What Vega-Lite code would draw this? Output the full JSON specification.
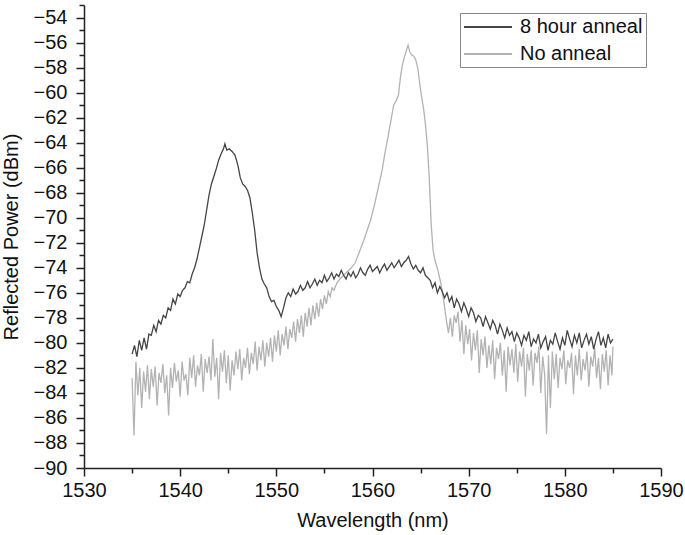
{
  "$schema": "https://vega.github.io/schema/vega-lite/v6.json",
  "width": 577,
  "height": 463,
  "autosize": {"type": "none"},
  "padding": {"left": 84, "top": 5, "right": 24, "bottom": 67},
  "config": {
    "view": {"stroke": null},
    "font": "Liberation Sans",
    "axis": {"labelFont": "Liberation Sans", "titleFont": "Liberation Sans", "labelFontSize": 20, "titleFontSize": 20, "titleFontWeight": "normal", "labelColor": "#111", "titleColor": "#111", "domainColor": "#222", "tickColor": "#222", "domainWidth": 1.5, "tickWidth": 1.5, "grid": false}
  },
  "datasets": {
    "anneal": [
      {"w":1535.0,"p":-80.9},{"w":1535.25,"p":-80.2},{"w":1535.5,"p":-81.1},{"w":1535.75,"p":-79.8},{"w":1536.0,"p":-80.6},{"w":1536.25,"p":-79.6},{"w":1536.5,"p":-80.5},{"w":1536.75,"p":-79.3},{"w":1537.0,"p":-79.4},{"w":1537.25,"p":-78.6},{"w":1537.5,"p":-79.1},{"w":1537.75,"p":-78.2},{"w":1538.0,"p":-78.5},{"w":1538.25,"p":-77.8},{"w":1538.5,"p":-78.0},{"w":1538.75,"p":-77.2},{"w":1539.0,"p":-77.4},{"w":1539.25,"p":-76.5},{"w":1539.5,"p":-76.9},{"w":1539.75,"p":-76.1},{"w":1540.0,"p":-76.3},{"w":1540.25,"p":-75.8},{"w":1540.5,"p":-75.6},{"w":1540.75,"p":-75.1},{"w":1541.0,"p":-75.2},{"w":1541.25,"p":-74.5},{"w":1541.5,"p":-74.0},{"w":1541.75,"p":-73.3},{"w":1542.0,"p":-72.4},{"w":1542.25,"p":-71.5},{"w":1542.5,"p":-70.6},{"w":1542.75,"p":-69.4},{"w":1543.0,"p":-68.2},{"w":1543.25,"p":-67.3},{"w":1543.5,"p":-66.7},{"w":1543.75,"p":-66.1},{"w":1544.0,"p":-65.4},{"w":1544.25,"p":-64.9},{"w":1544.5,"p":-64.5},{"w":1544.65,"p":-64.1},{"w":1544.85,"p":-64.6},{"w":1545.1,"p":-64.5},{"w":1545.4,"p":-64.7},{"w":1545.7,"p":-65.0},{"w":1546.0,"p":-65.8},{"w":1546.25,"p":-66.8},{"w":1546.5,"p":-67.3},{"w":1546.75,"p":-67.5},{"w":1547.0,"p":-67.8},{"w":1547.25,"p":-68.4},{"w":1547.5,"p":-69.6},{"w":1547.75,"p":-71.0},{"w":1548.0,"p":-72.8},{"w":1548.25,"p":-74.0},{"w":1548.5,"p":-74.9},{"w":1548.75,"p":-75.3},{"w":1549.0,"p":-75.6},{"w":1549.25,"p":-76.3},{"w":1549.5,"p":-76.7},{"w":1549.75,"p":-76.6},{"w":1550.0,"p":-77.1},{"w":1550.25,"p":-77.4},{"w":1550.5,"p":-77.9},{"w":1550.75,"p":-77.2},
      {"w":1551.0,"p":-76.4},{"w":1551.25,"p":-76.0},{"w":1551.5,"p":-76.3},{"w":1551.75,"p":-75.7},{"w":1552.0,"p":-76.1},{"w":1552.25,"p":-75.9},{"w":1552.5,"p":-75.4},{"w":1552.75,"p":-75.8},{"w":1553.0,"p":-75.6},{"w":1553.25,"p":-75.1},{"w":1553.5,"p":-75.6},{"w":1553.75,"p":-75.3},{"w":1554.0,"p":-74.9},{"w":1554.25,"p":-75.4},{"w":1554.5,"p":-75.0},{"w":1554.75,"p":-75.2},{"w":1555.0,"p":-74.6},{"w":1555.25,"p":-75.1},{"w":1555.5,"p":-74.8},{"w":1555.75,"p":-74.4},{"w":1556.0,"p":-74.9},{"w":1556.25,"p":-74.5},{"w":1556.5,"p":-74.7},{"w":1556.75,"p":-74.2},{"w":1557.0,"p":-74.6},{"w":1557.25,"p":-74.9},{"w":1557.5,"p":-74.4},{"w":1557.75,"p":-74.7},{"w":1558.0,"p":-74.3},{"w":1558.25,"p":-74.8},{"w":1558.5,"p":-74.5},{"w":1558.75,"p":-74.0},{"w":1559.0,"p":-74.4},{"w":1559.25,"p":-74.6},{"w":1559.5,"p":-74.1},{"w":1559.75,"p":-73.8},{"w":1560.0,"p":-74.3},{"w":1560.25,"p":-74.1},{"w":1560.5,"p":-73.9},{"w":1560.75,"p":-74.4},{"w":1561.0,"p":-74.0},{"w":1561.25,"p":-73.7},{"w":1561.5,"p":-74.2},{"w":1561.75,"p":-73.9},{"w":1562.0,"p":-73.6},{"w":1562.25,"p":-74.0},{"w":1562.5,"p":-73.7},{"w":1562.75,"p":-73.4},{"w":1563.0,"p":-73.9},{"w":1563.25,"p":-73.6},{"w":1563.5,"p":-73.4},{"w":1563.75,"p":-73.1},{"w":1564.0,"p":-73.7},{"w":1564.25,"p":-74.1},{"w":1564.5,"p":-73.8},{"w":1564.75,"p":-74.2},{"w":1565.0,"p":-74.4},{"w":1565.25,"p":-74.0},{"w":1565.5,"p":-74.6},{"w":1565.75,"p":-74.8},
      {"w":1566.0,"p":-75.0},{"w":1566.25,"p":-75.6},{"w":1566.5,"p":-75.2},{"w":1566.75,"p":-76.0},{"w":1567.0,"p":-75.5},{"w":1567.25,"p":-75.9},{"w":1567.5,"p":-76.4},{"w":1567.75,"p":-76.0},{"w":1568.0,"p":-76.7},{"w":1568.25,"p":-76.3},{"w":1568.5,"p":-77.2},{"w":1568.75,"p":-76.5},{"w":1569.0,"p":-76.9},{"w":1569.25,"p":-77.5},{"w":1569.5,"p":-76.8},{"w":1569.75,"p":-77.3},{"w":1570.0,"p":-77.9},{"w":1570.25,"p":-77.2},{"w":1570.5,"p":-77.6},{"w":1570.75,"p":-78.3},{"w":1571.0,"p":-77.8},{"w":1571.25,"p":-78.0},{"w":1571.5,"p":-78.7},{"w":1571.75,"p":-77.9},{"w":1572.0,"p":-78.4},{"w":1572.25,"p":-78.9},{"w":1572.5,"p":-78.2},{"w":1572.75,"p":-78.6},{"w":1573.0,"p":-79.3},{"w":1573.25,"p":-78.5},{"w":1573.5,"p":-79.0},{"w":1573.75,"p":-79.6},{"w":1574.0,"p":-78.8},{"w":1574.25,"p":-79.4},{"w":1574.5,"p":-79.1},{"w":1574.75,"p":-79.9},{"w":1575.0,"p":-79.2},{"w":1575.25,"p":-79.6},{"w":1575.5,"p":-80.2},{"w":1575.75,"p":-79.4},{"w":1576.0,"p":-79.8},{"w":1576.25,"p":-79.1},{"w":1576.5,"p":-80.3},{"w":1576.75,"p":-79.7},{"w":1577.0,"p":-80.0},{"w":1577.25,"p":-79.3},{"w":1577.5,"p":-80.4},{"w":1577.75,"p":-79.9},{"w":1578.0,"p":-79.5},{"w":1578.25,"p":-80.6},{"w":1578.5,"p":-79.8},{"w":1578.75,"p":-80.1},{"w":1579.0,"p":-79.2},{"w":1579.25,"p":-79.9},{"w":1579.5,"p":-80.5},{"w":1579.75,"p":-79.6},{"w":1580.0,"p":-80.2},{"w":1580.25,"p":-79.0},{"w":1580.5,"p":-79.7},{"w":1580.75,"p":-80.3},{"w":1581.0,"p":-79.4},{"w":1581.25,"p":-80.0},{"w":1581.5,"p":-79.2},{"w":1581.75,"p":-80.4},{"w":1582.0,"p":-79.8},{"w":1582.25,"p":-79.3},{"w":1582.5,"p":-80.1},{"w":1582.75,"p":-79.5},{"w":1583.0,"p":-80.5},{"w":1583.25,"p":-79.7},{"w":1583.5,"p":-79.1},{"w":1583.75,"p":-80.2},{"w":1584.0,"p":-79.6},{"w":1584.25,"p":-80.4},{"w":1584.5,"p":-79.3},{"w":1584.75,"p":-80.0},{"w":1585.0,"p":-79.7}
    ],
    "none": [
      {"w":1535.0,"p":-82.8},{"w":1535.2,"p":-87.4},{"w":1535.4,"p":-81.5},{"w":1535.6,"p":-84.2},{"w":1535.8,"p":-82.0},{"w":1536.0,"p":-85.2},{"w":1536.2,"p":-82.3},{"w":1536.4,"p":-83.9},{"w":1536.6,"p":-81.8},{"w":1536.8,"p":-84.5},{"w":1537.0,"p":-82.1},{"w":1537.2,"p":-83.5},{"w":1537.4,"p":-81.9},{"w":1537.6,"p":-85.0},{"w":1537.8,"p":-82.4},{"w":1538.0,"p":-83.2},{"w":1538.2,"p":-81.7},{"w":1538.4,"p":-84.0},{"w":1538.6,"p":-82.6},{"w":1538.8,"p":-85.8},{"w":1539.0,"p":-82.0},{"w":1539.2,"p":-83.6},{"w":1539.4,"p":-81.6},{"w":1539.6,"p":-83.1},{"w":1539.8,"p":-82.2},{"w":1540.0,"p":-84.3},{"w":1540.2,"p":-81.5},{"w":1540.4,"p":-83.0},{"w":1540.6,"p":-82.5},{"w":1540.8,"p":-84.2},{"w":1541.0,"p":-81.2},{"w":1541.2,"p":-82.8},{"w":1541.4,"p":-81.0},{"w":1541.6,"p":-83.5},{"w":1541.8,"p":-81.8},{"w":1542.0,"p":-82.6},{"w":1542.2,"p":-80.9},{"w":1542.4,"p":-83.9},{"w":1542.6,"p":-81.3},{"w":1542.8,"p":-82.4},{"w":1543.0,"p":-81.1},{"w":1543.2,"p":-83.0},{"w":1543.4,"p":-79.7},{"w":1543.6,"p":-82.7},{"w":1543.8,"p":-81.2},{"w":1544.0,"p":-84.5},{"w":1544.2,"p":-80.8},{"w":1544.4,"p":-82.3},{"w":1544.6,"p":-80.6},{"w":1544.8,"p":-83.2},{"w":1545.0,"p":-81.0},{"w":1545.2,"p":-83.8},{"w":1545.4,"p":-81.4},{"w":1545.6,"p":-82.6},{"w":1545.8,"p":-80.7},{"w":1546.0,"p":-82.1},{"w":1546.2,"p":-80.5},{"w":1546.4,"p":-83.0},{"w":1546.6,"p":-81.2},{"w":1546.8,"p":-82.0},{"w":1547.0,"p":-80.4},{"w":1547.2,"p":-82.5},{"w":1547.4,"p":-80.8},{"w":1547.6,"p":-81.7},{"w":1547.8,"p":-79.9},{"w":1548.0,"p":-82.2},{"w":1548.2,"p":-80.3},{"w":1548.4,"p":-81.4},{"w":1548.6,"p":-79.8},{"w":1548.8,"p":-81.9},{"w":1549.0,"p":-80.0},{"w":1549.2,"p":-81.1},{"w":1549.4,"p":-79.6},{"w":1549.6,"p":-81.5},{"w":1549.8,"p":-79.4},{"w":1550.0,"p":-80.7},{"w":1550.2,"p":-79.0},{"w":1550.4,"p":-81.0},{"w":1550.6,"p":-79.3},{"w":1550.8,"p":-80.2},{"w":1551.0,"p":-78.7},{"w":1551.2,"p":-80.5},{"w":1551.4,"p":-78.9},{"w":1551.6,"p":-79.6},{"w":1551.8,"p":-78.3},{"w":1552.0,"p":-79.9},{"w":1552.2,"p":-78.1},{"w":1552.4,"p":-79.2},{"w":1552.6,"p":-77.8},{"w":1552.8,"p":-79.5},{"w":1553.0,"p":-77.6},{"w":1553.2,"p":-78.7},{"w":1553.4,"p":-77.2},{"w":1553.6,"p":-78.6},{"w":1553.8,"p":-77.0},{"w":1554.0,"p":-78.1},{"w":1554.2,"p":-76.8},{"w":1554.4,"p":-77.9},{"w":1554.6,"p":-76.5},{"w":1554.8,"p":-77.3},{"w":1555.0,"p":-76.2},{"w":1555.2,"p":-76.9},{"w":1555.4,"p":-75.9},{"w":1555.6,"p":-76.3},{"w":1555.8,"p":-75.6},{"w":1556.0,"p":-75.8},{"w":1556.3,"p":-75.2},{"w":1556.6,"p":-74.9},{"w":1557.0,"p":-74.6},{"w":1557.4,"p":-74.3},{"w":1557.8,"p":-74.0},{"w":1558.2,"p":-73.6},{"w":1558.6,"p":-72.8},{"w":1559.0,"p":-72.0},{"w":1559.4,"p":-71.1},{"w":1559.8,"p":-70.2},{"w":1560.2,"p":-69.0},{"w":1560.6,"p":-67.6},{"w":1561.0,"p":-66.2},{"w":1561.3,"p":-64.8},{"w":1561.6,"p":-63.6},{"w":1561.9,"p":-62.3},{"w":1562.2,"p":-61.0},{"w":1562.5,"p":-60.6},{"w":1562.7,"p":-60.2},{"w":1562.9,"p":-58.8},{"w":1563.1,"p":-57.8},{"w":1563.3,"p":-57.2},{"w":1563.5,"p":-56.7},{"w":1563.7,"p":-56.2},{"w":1563.9,"p":-56.8},{"w":1564.1,"p":-57.0},{"w":1564.3,"p":-57.1},{"w":1564.5,"p":-57.4},{"w":1564.7,"p":-58.0},{"w":1564.9,"p":-59.2},{"w":1565.1,"p":-60.3},{"w":1565.3,"p":-61.2},{"w":1565.5,"p":-62.5},{"w":1565.7,"p":-64.2},{"w":1565.9,"p":-66.8},{"w":1566.1,"p":-70.5},{"w":1566.3,"p":-72.6},{"w":1566.5,"p":-73.4},{"w":1566.8,"p":-74.2},{"w":1567.1,"p":-75.2},{"w":1567.4,"p":-76.6},{"w":1567.7,"p":-78.3},{"w":1567.9,"p":-79.2},{"w":1568.1,"p":-78.0},{"w":1568.3,"p":-79.5},{"w":1568.5,"p":-77.8},{"w":1568.7,"p":-78.4},{"w":1568.9,"p":-77.5},{"w":1569.1,"p":-79.9},{"w":1569.3,"p":-78.2},{"w":1569.5,"p":-80.9},{"w":1569.7,"p":-78.6},{"w":1569.9,"p":-80.1},{"w":1570.1,"p":-78.9},{"w":1570.3,"p":-81.4},{"w":1570.5,"p":-79.2},{"w":1570.7,"p":-80.6},{"w":1570.9,"p":-79.0},{"w":1571.1,"p":-82.4},{"w":1571.3,"p":-79.7},{"w":1571.5,"p":-81.0},{"w":1571.7,"p":-79.5},{"w":1571.9,"p":-82.0},{"w":1572.1,"p":-80.2},{"w":1572.3,"p":-81.7},{"w":1572.5,"p":-79.8},{"w":1572.7,"p":-82.9},{"w":1572.9,"p":-80.4},{"w":1573.1,"p":-81.3},{"w":1573.3,"p":-80.0},{"w":1573.5,"p":-82.6},{"w":1573.7,"p":-80.6},{"w":1573.9,"p":-83.9},{"w":1574.1,"p":-80.3},{"w":1574.3,"p":-81.8},{"w":1574.5,"p":-80.5},{"w":1574.7,"p":-82.4},{"w":1574.9,"p":-80.1},{"w":1575.1,"p":-83.1},{"w":1575.3,"p":-80.7},{"w":1575.5,"p":-81.9},{"w":1575.7,"p":-80.4},{"w":1575.9,"p":-84.3},{"w":1576.1,"p":-80.9},{"w":1576.3,"p":-82.2},{"w":1576.5,"p":-80.6},{"w":1576.7,"p":-83.4},{"w":1576.9,"p":-80.8},{"w":1577.1,"p":-81.6},{"w":1577.3,"p":-80.3},{"w":1577.5,"p":-84.0},{"w":1577.7,"p":-81.1},{"w":1577.9,"p":-82.5},{"w":1578.1,"p":-87.3},{"w":1578.3,"p":-81.0},{"w":1578.5,"p":-85.2},{"w":1578.7,"p":-80.7},{"w":1578.9,"p":-82.9},{"w":1579.1,"p":-80.9},{"w":1579.3,"p":-83.6},{"w":1579.5,"p":-81.2},{"w":1579.7,"p":-82.1},{"w":1579.9,"p":-80.6},{"w":1580.1,"p":-83.3},{"w":1580.3,"p":-81.4},{"w":1580.5,"p":-82.0},{"w":1580.7,"p":-80.8},{"w":1580.9,"p":-84.1},{"w":1581.1,"p":-81.0},{"w":1581.3,"p":-82.6},{"w":1581.5,"p":-80.5},{"w":1581.7,"p":-83.0},{"w":1581.9,"p":-81.3},{"w":1582.1,"p":-82.2},{"w":1582.3,"p":-80.7},{"w":1582.5,"p":-83.5},{"w":1582.7,"p":-81.1},{"w":1582.9,"p":-81.9},{"w":1583.1,"p":-80.4},{"w":1583.3,"p":-82.8},{"w":1583.5,"p":-81.2},{"w":1583.7,"p":-83.7},{"w":1583.9,"p":-80.9},{"w":1584.1,"p":-82.3},{"w":1584.3,"p":-80.6},{"w":1584.5,"p":-83.4},{"w":1584.7,"p":-81.0},{"w":1584.9,"p":-82.6},{"w":1585.0,"p":-80.3}
    ]
  },
  "resolve": {"axis": {"x": "independent", "y": "independent"}},
  "layer": [
    {
      "data": {"name": "none"},
      "mark": {"type": "line", "strokeWidth": 1.3, "clip": true},
      "encoding": {
        "x": {"field": "w", "type": "quantitative", "scale": {"domain": [1530, 1590], "nice": false, "zero": false},
              "axis": {"title": "Wavelength (nm)", "values": [1530, 1540, 1550, 1560, 1570, 1580, 1590], "tickSize": 8, "labelPadding": 4, "titlePadding": 10, "format": "d", "labelFlush": false}},
        "y": {"field": "p", "type": "quantitative", "scale": {"domain": [-90, -53], "nice": false, "zero": false},
              "axis": {"title": "Reflected Power (dBm)", "values": [-90, -88, -86, -84, -82, -80, -78, -76, -74, -72, -70, -68, -66, -64, -62, -60, -58, -56, -54], "tickSize": 8, "labelPadding": 9, "titlePadding": 12, "labelFlush": false}},
        "color": {"datum": "No anneal", "type": "nominal",
                  "scale": {"domain": ["8 hour anneal", "No anneal"], "range": ["#454545", "#b3b3b3"]},
                  "legend": {"title": null, "orient": "none", "legendX": 376, "legendY": 8, "padding": 3, "strokeColor": "#888", "fillColor": "white", "symbolType": "M-2.4,0H2.4", "symbolSize": 400, "symbolOffset": 14, "symbolStrokeWidth": 2, "labelFontSize": 20, "labelFont": "Liberation Sans", "labelColor": "#111", "labelOffset": 21, "rowPadding": 6}}
      }
    },
    {
      "data": {"name": "anneal"},
      "mark": {"type": "line", "strokeWidth": 1.3, "clip": true},
      "encoding": {
        "x": {"field": "w", "type": "quantitative", "axis": null},
        "y": {"field": "p", "type": "quantitative", "axis": null},
        "color": {"datum": "8 hour anneal", "type": "nominal"}
      }
    },
    {
      "data": {"name": "anneal"},
      "mark": {"type": "point", "opacity": 0},
      "encoding": {
        "x": {"field": "w", "type": "quantitative",
              "axis": {"orient": "bottom", "title": null, "labels": false, "domain": false, "values": [1535, 1545, 1555, 1565, 1575, 1585], "tickSize": 5}},
        "y": {"field": "p", "type": "quantitative",
              "axis": {"orient": "left", "title": null, "labels": false, "domain": false, "values": [-89, -87, -85, -83, -81, -79, -77, -75, -73, -71, -69, -67, -65, -63, -61, -59, -57, -55, -53], "tickSize": 5}}
      }
    }
  ]
}
